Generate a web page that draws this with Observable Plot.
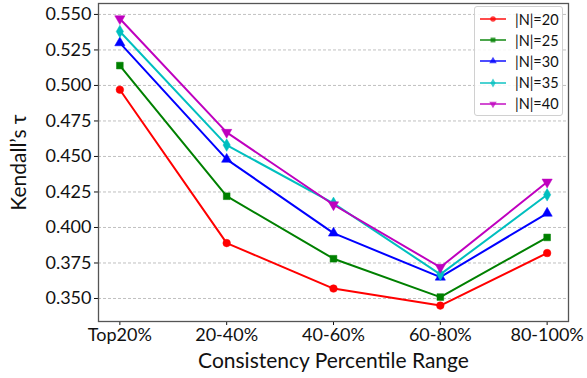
<!DOCTYPE html>
<html><head><meta charset="utf-8">
<script src="https://cdn.jsdelivr.net/npm/d3@7"></script>
<script src="https://cdn.jsdelivr.net/npm/@observablehq/plot@0.6"></script>
<style>
body{margin:0;background:#fff;}
#wrap{position:relative;width:587px;height:378px;font-family:Lato,"Open Sans",sans-serif;}
#wrap svg{font-family:Lato,"Open Sans",sans-serif;}
g[aria-label="y-axis label"] text, g[aria-label="x-axis label"] text{font-size:21px;}
#legend{position:absolute;left:474px;top:6px;width:89px;height:110px;border:1px solid #d0d0d0;border-radius:3px;background:rgba(255,255,255,0.85);box-sizing:border-box;font-size:14.5px;}
.row{position:absolute;left:4px;height:20px;display:flex;align-items:center;}
.row span{margin-left:8px;color:#111;}
</style></head>
<body><div id="wrap"><div id="legend"></div></div>
<script>
const categories = ["Top20%", "20-40%", "40-60%", "60-80%", "80-100%"];
const seriesNames = ["|N|=20", "|N|=25", "|N|=30", "|N|=35", "|N|=40"];
const n20 = [0.497, 0.389, 0.357, 0.345, 0.382];
const n25 = [0.514, 0.422, 0.378, 0.351, 0.393];
const n30 = [0.530, 0.448, 0.396, 0.365, 0.410];
const n35 = [0.538, 0.458, 0.417, 0.367, 0.423];
const n40 = [0.547, 0.467, 0.416, 0.372, 0.432];
const yTicks = [0.350, 0.375, 0.400, 0.425, 0.450, 0.475, 0.500, 0.525, 0.550];
const colors = ["#ff0000", "#008000", "#0000ff", "#00bfbf", "#bf00bf"];

const triangleDown = {draw(ctx, size){const s = Math.sqrt(size * 4 / Math.sqrt(3)); const h = s * Math.sqrt(3) / 2; ctx.moveTo(0, h * 2 / 3); ctx.lineTo(-s / 2, -h / 3); ctx.lineTo(s / 2, -h / 3); ctx.closePath();}};
const symbols = [d3.symbolCircle, d3.symbolSquare, d3.symbolTriangle, d3.symbolDiamond, triangleDown];

const allSeries = [n20, n25, n30, n35, n40];
const data = [];
allSeries.forEach((vals, s) => vals.forEach((v, i) => data.push({series: seriesNames[s], i, v})));

const chart = Plot.plot({
  width: 587, height: 378,
  marginLeft: 98, marginRight: 19, marginTop: 3, marginBottom: 57,
  style: {fontSize: "18px", color: "#111"},
  x: {type: "linear", domain: [-0.2, 4.2]},
  y: {domain: [0.3338, 0.5577]},
  color: {domain: seriesNames, range: colors},
  symbol: {domain: seriesNames, range: symbols},
  marks: [
    Plot.gridY(yTicks, {stroke: "#b0b0b0", strokeOpacity: 0.8, strokeDasharray: "3,2"}),
    Plot.axisY({ticks: yTicks, tickFormat: d3.format(".3f"), tickSize: 4, tickPadding: 3, fontSize: 18, label: "Kendall’s τ", labelAnchor: "center", labelArrow: "none", labelOffset: 87}),
    Plot.axisX({ticks: [0,1,2,3,4], tickFormat: i => categories[i], tickSize: 4, tickPadding: 3, fontSize: 18, label: "Consistency Percentile Range", labelAnchor: "center", labelArrow: "none", labelOffset: 46}),
    Plot.line(data, {x: "i", y: "v", z: "series", stroke: "series", strokeWidth: 2}),
    Plot.dot(data, {x: "i", y: "v", symbol: "series", fill: "series", stroke: "series", strokeWidth: 0.5, r: 3.8}),
    Plot.frame({stroke: "#555", strokeWidth: 1.3})
  ]
});
document.getElementById("wrap").prepend(chart);

const legend = document.getElementById("legend");
seriesNames.forEach((name, k) => {
  const row = document.createElement("div");
  row.className = "row";
  row.style.top = (2 + k * 21.2) + "px";
  const sym = d3.symbol(symbols[k], 24)();
  row.innerHTML = `<svg width="28" height="14"><line x1="1" x2="27" y1="7" y2="7" stroke="${colors[k]}" stroke-opacity="0.7" stroke-width="2"/><path d="${sym}" transform="translate(14,7)" fill="${colors[k]}" fill-opacity="0.75"/></svg><span>${name}</span>`;
  legend.appendChild(row);
});
</script></body></html>
